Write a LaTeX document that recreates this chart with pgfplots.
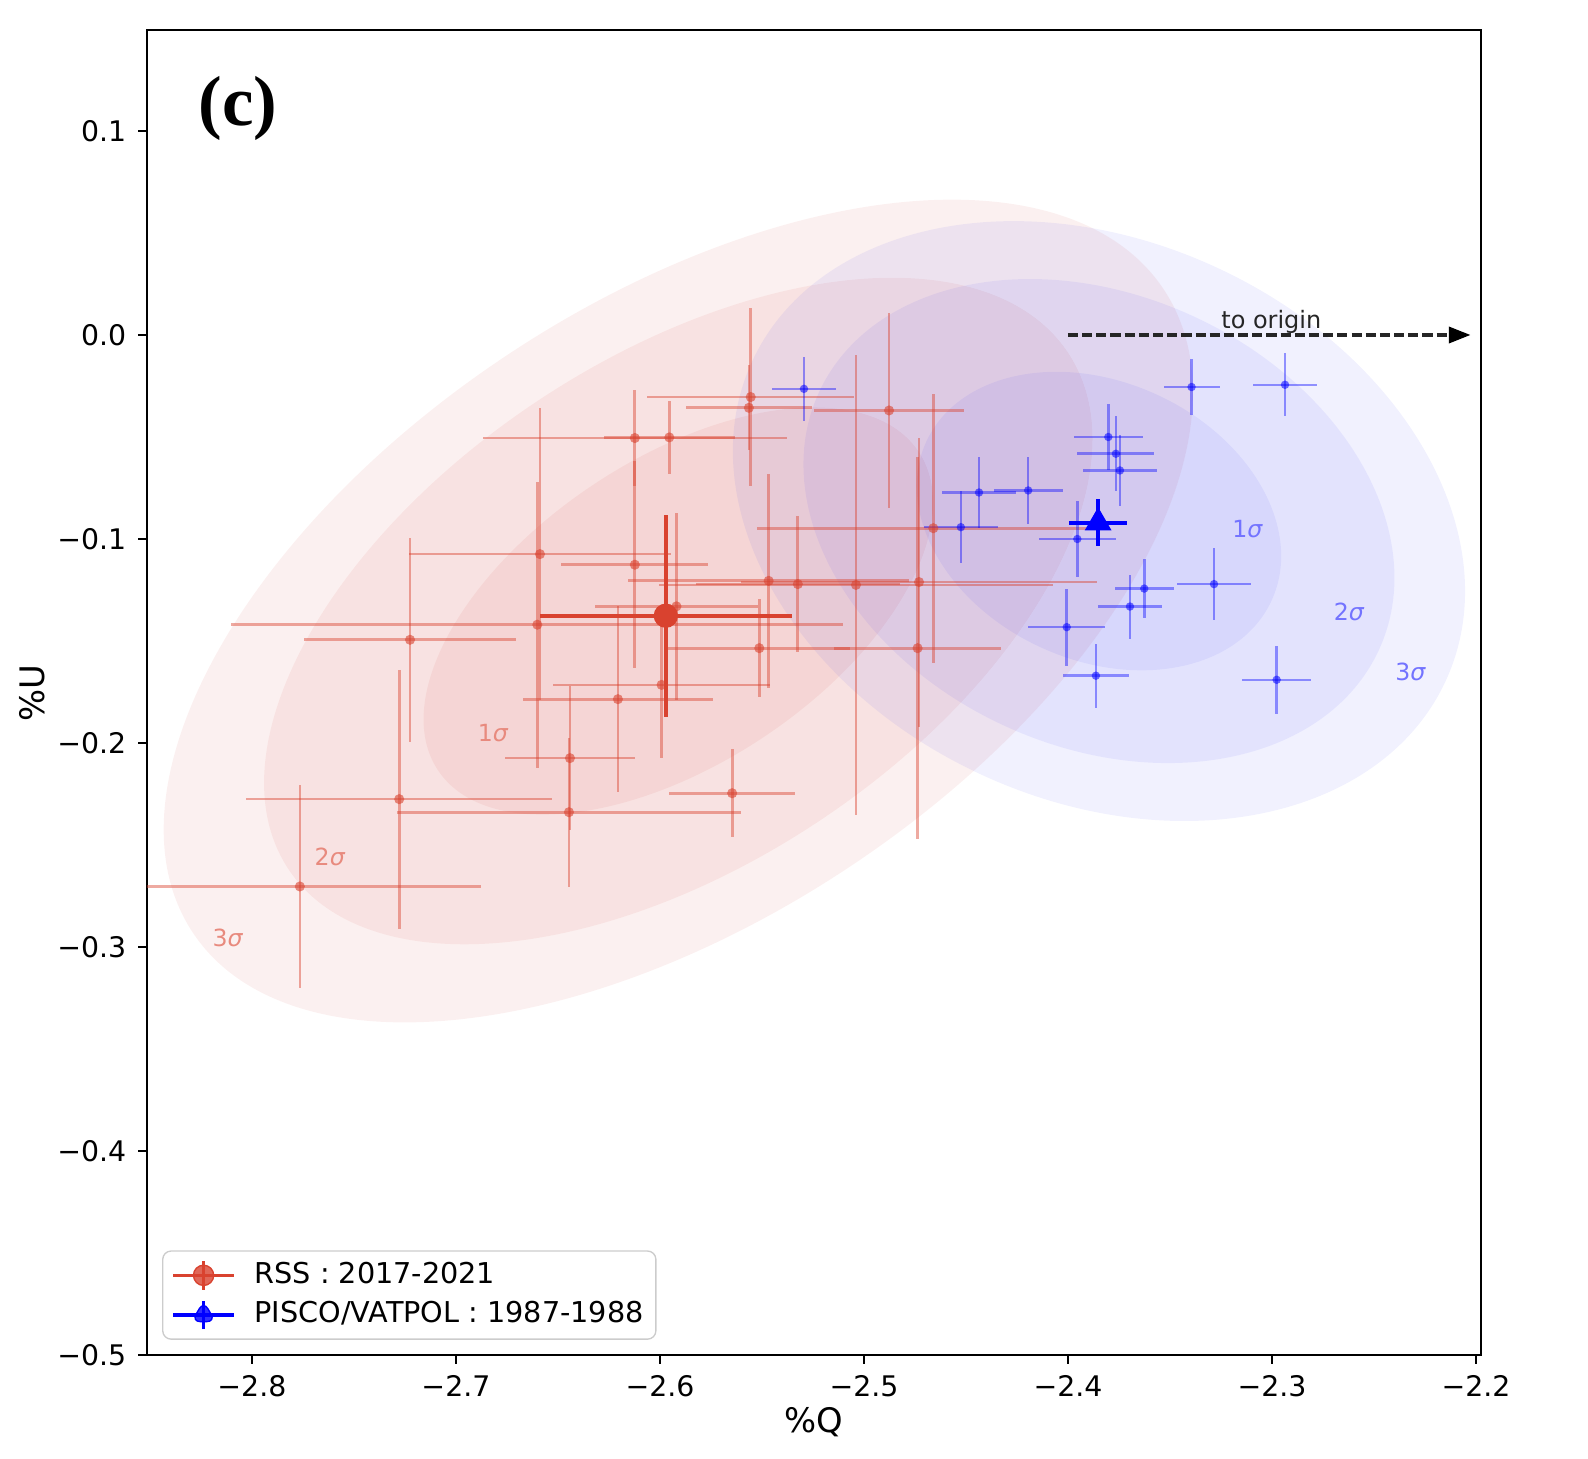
\documentclass[border=0pt]{standalone}
\usepackage{fontspec}
\setmainfont{DejaVu Sans}
\newfontfamily\panelfont{Liberation Serif}
\usepackage{pgfplots}
\usepackage{pgfplotstable}
\pgfplotsset{compat=1.18}
\usetikzlibrary{arrows.meta}

\definecolor{rsscol}{RGB}{217,66,47}
\definecolor{piscol}{RGB}{0,0,255}
\definecolor{rssfill}{RGB}{208,62,58}
\definecolor{pisfill}{RGB}{40,40,240}

% RSS 2017-2021 individual epochs: Q, U and their 1-sigma errors (per cent)
\pgfplotstableread{
q       u       dq      du
-2.5555 -0.0304 0.0507  0.0436
-2.5564 -0.0357 0.0310  0.0208
-2.6123 -0.0505 0.0746  0.0237
-2.5954 -0.0502 0.0320  0.0180
-2.6588 -0.1074 0.0640  0.0716
-2.6123 -0.1126 0.0360  0.0506
-2.6601 -0.1420 0.1500  0.0700
-2.7225 -0.1494 0.0520  0.0500
-2.6206 -0.1785 0.0467  0.0455
-2.6441 -0.2074 0.0320  0.0352
-2.6446 -0.2339 0.0845  0.0366
-2.7278 -0.2275 0.0750  0.0635
-2.7765 -0.2703 0.0886  0.0496
-2.5467 -0.1205 0.0690  0.0526
-2.5324 -0.1221 0.0500  0.0335
-2.5039 -0.1225 0.0967  0.1127
-2.4730 -0.1211 0.0871  0.0708
-2.5513 -0.1535 0.0446  0.0240
-2.4737 -0.1535 0.0410  0.0935
-2.5992 -0.1715 0.0530  0.0360
-2.5646 -0.2246 0.0310  0.0216
-2.5919 -0.1330 0.0400  0.0458
-2.4877 -0.0370 0.0368  0.0478
-2.4660 -0.0947 0.0866  0.0660
}\rsspts

% PISCO/VATPOL 1987-1988 individual measurements
\pgfplotstableread{
q       u       dq      du
-2.3394 -0.0255 0.0137  0.0136
-2.2936 -0.0244 0.0157  0.0155
-2.3802 -0.0500 0.0170  0.0163
-2.3765 -0.0582 0.0189  0.0185
-2.3745 -0.0664 0.0180  0.0174
-2.4195 -0.0762 0.0169  0.0163
-2.4436 -0.0772 0.0180  0.0174
-2.4525 -0.0942 0.0180  0.0177
-2.3954 -0.1000 0.0188  0.0188
-2.3626 -0.1243 0.0145  0.0145
-2.3696 -0.1331 0.0157  0.0157
-2.3284 -0.1221 0.0180  0.0177
-2.4006 -0.1432 0.0190  0.0188
-2.3863 -0.1670 0.0160  0.0157
-2.2977 -0.1690 0.0169  0.0167
-2.5294 -0.0264 0.0158  0.0157
}\pispts

\begin{document}
\begin{tikzpicture}
\useasboundingbox (-43.5pt,-30.6pt) rectangle (426.9pt,401.4pt);
\begin{axis}[
  at={(0pt,0pt)}, anchor=south west,
  scale only axis, width=395.1pt, height=392.4pt,
  xmin=-2.8515, xmax=-2.1977, ymin=-0.5, ymax=0.1493,
  xtick={-2.8,-2.7,-2.6,-2.5,-2.4,-2.3,-2.2},
  xticklabels={−2.8,−2.7,−2.6,−2.5,−2.4,−2.3,−2.2},
  ytick={-0.5,-0.4,-0.3,-0.2,-0.1,0,0.1},
  yticklabels={−0.5,−0.4,−0.3,−0.2,−0.1,0.0,0.1},
  tick label style={font=\fontsize{8.4}{10}\selectfont},
  tick pos=left, tick align=outside, major tick length=2.6pt,
  tick style={black, line width=0.6pt},
  axis line style={line width=0.6pt},
  xlabel={\%Q}, ylabel={\%U},
  label style={font=\fontsize{10}{12}\selectfont},
  xlabel style={at={(axis description cs:0.5,-0.0306)}, anchor=north},
  ylabel style={at={(axis description cs:-0.0858,0.5)}, anchor=center},
  legend style={at={(axis description cs:0.0114,0.0115)}, anchor=south west,
    draw=black!20, rounded corners=2.5pt, fill=white, fill opacity=0.8, text opacity=1,
    font=\fontsize{8.5}{10}\selectfont, inner xsep=2.6pt, inner ysep=2.3pt,
    row sep=1.9pt, column sep=4.6pt, nodes={inner sep=1pt}},
  legend cell align=left,
]

% confidence ellipses (3, 2, 1 sigma) of the two data sets
\fill[rssfill, opacity=0.08, rotate around={33.5:(axis cs:-2.591,-0.1353)}]
  (axis cs:-2.591,-0.1353) ellipse [x radius=172.5pt, y radius=91.2pt];
\fill[rssfill, opacity=0.08, rotate around={33.5:(axis cs:-2.591,-0.1353)}]
  (axis cs:-2.591,-0.1353) ellipse [x radius=138.5pt, y radius=74.9pt];
\fill[rssfill, opacity=0.08, rotate around={33.5:(axis cs:-2.591,-0.1353)}]
  (axis cs:-2.591,-0.1353) ellipse [x radius=85.4pt, y radius=45.1pt];
\fill[pisfill, opacity=0.065, rotate around={-24.7:(axis cs:-2.3848,-0.0912)}]
  (axis cs:-2.3848,-0.0912) ellipse [x radius=113.1pt, y radius=82.8pt];
\fill[pisfill, opacity=0.065, rotate around={-24.7:(axis cs:-2.3848,-0.0912)}]
  (axis cs:-2.3848,-0.0912) ellipse [x radius=91.3pt, y radius=66.8pt];
\fill[pisfill, opacity=0.065, rotate around={-24.7:(axis cs:-2.3848,-0.0912)}]
  (axis cs:-2.3848,-0.0912) ellipse [x radius=56.3pt, y radius=41.2pt];

% individual measurements
\addplot[forget plot, only marks, mark=*, mark size=1.5pt, color=rsscol,
  mark options={draw opacity=0, fill opacity=0.6},
  error bars/.cd, x dir=both, x explicit, y dir=both, y explicit, error mark=none,
  error bar style={line width=0.8pt, opacity=0.45}]
  table[x=q, y=u, x error=dq, y error=du] {\rsspts};
\addplot[forget plot, only marks, mark=*, mark size=1.25pt, color=piscol,
  mark options={draw opacity=0, fill opacity=0.55},
  error bars/.cd, x dir=both, x explicit, y dir=both, y explicit, error mark=none,
  error bar style={line width=0.75pt, opacity=0.4}]
  table[x=q, y=u, x error=dq, y error=du] {\pispts};

% weighted means
\addplot[forget plot, only marks, mark=*, mark size=3.4pt, color=rsscol,
  error bars/.cd, x dir=both, x explicit, y dir=both, y explicit, error mark=none,
  error bar style={line width=1.1pt}]
  coordinates {(-2.5971,-0.1376) +- (0.0616,0.0494)};
\addplot[forget plot, only marks, mark=triangle*, mark size=4.2pt, color=piscol,
  error bars/.cd, x dir=both, x explicit, y dir=both, y explicit, error mark=none,
  error bar style={line width=1.1pt}]
  coordinates {(-2.3852,-0.0920) +- (0.0143,0.0116)};

% sigma labels
\node[text=rsscol!62, font=\fontsize{7}{8}\selectfont] at (axis cs:-2.6817,-0.1951) {1\textit{σ}};
\node[text=rsscol!62, font=\fontsize{7}{8}\selectfont] at (axis cs:-2.7617,-0.2557) {2\textit{σ}};
\node[text=rsscol!62, font=\fontsize{7}{8}\selectfont] at (axis cs:-2.8118,-0.2954) {3\textit{σ}};
\node[text=piscol!55, font=\fontsize{7}{8}\selectfont] at (axis cs:-2.3119,-0.0953) {1\textit{σ}};
\node[text=piscol!55, font=\fontsize{7}{8}\selectfont] at (axis cs:-2.2622,-0.1355) {2\textit{σ}};
\node[text=piscol!55, font=\fontsize{7}{8}\selectfont] at (axis cs:-2.2320,-0.1653) {3\textit{σ}};

% direction towards the origin
\draw[black!85, line width=0.9pt, dash pattern=on 3pt off 1.2pt]
  (axis cs:-2.4,0) -- (axis cs:-2.2125,0);
\draw[black, line width=0.9pt, -{Triangle[length=6.4pt,width=4.8pt]}]
  (axis cs:-2.2125,0) -- (axis cs:-2.2027,0);
\node[anchor=base, font=\fontsize{7.1}{8}\selectfont, text=black!85] at (axis cs:-2.3003,0.003) {to origin};

% panel tag
\node[font=\panelfont\bfseries\fontsize{21}{25}\selectfont] at (axis cs:-2.8069,0.1112) {(c)};

\addlegendimage{legend image code/.code={
  \draw[rsscol, line width=1pt] (0pt,0pt) -- (18pt,0pt);
  \draw[rsscol, line width=1pt] (9pt,-4.2pt) -- (9pt,4.2pt);
  \fill[rsscol] (9pt,0pt) circle[radius=3pt];}}
\addlegendentry{RSS : 2017-2021}
\addlegendimage{legend image code/.code={
  \draw[piscol, line width=1pt] (0pt,0pt) -- (18pt,0pt);
  \draw[piscol, line width=1pt] (9pt,-4.2pt) -- (9pt,4.2pt);
  \fill[piscol] (9pt,4pt) -- (5.5pt,-2pt) -- (12.5pt,-2pt) -- cycle;}}
\addlegendentry{PISCO/VATPOL : 1987-1988}
\end{axis}
\end{tikzpicture}
\end{document}
